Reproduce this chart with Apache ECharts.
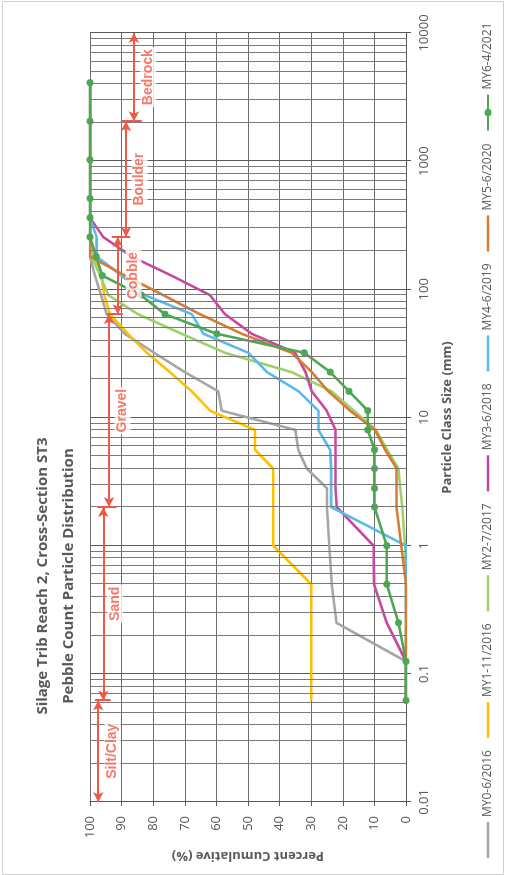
<!DOCTYPE html>
<html>
<head>
<meta charset="utf-8">
<script src="https://cdn.jsdelivr.net/npm/echarts@6/dist/echarts.min.js"></script>
<style>
  html, body { margin: 0; padding: 0; background: #fff; overflow: hidden; width: 506px; height: 875px; }
  /* the chart is laid out landscape and turned a quarter turn to stand upright on the page */
  #chart { position: absolute; left: 0; top: 0; width: 875px; height: 506px;
           transform-origin: 0 0; transform: translate(0, 875px) rotate(-90deg); }
</style>
</head>
<body>
<div id="chart"></div>
<script>
// Particle class sizes (mm)
const sizes = [0.062, 0.125, 0.25, 0.5, 1, 2, 2.8, 4, 5.6, 8, 11.3, 16, 22.6, 32, 45, 64, 90, 128, 180, 256, 362, 512, 1024, 2048, 4096];

const seriesNames = ['MY0-6/2016', 'MY1-11/2016', 'MY2-7/2017', 'MY3-6/2018', 'MY4-6/2019', 'MY5-6/2020', 'MY6-4/2021'];

// Percent cumulative finer than each class size
const my0 = [0, 0, 22, 23.5, 24.3, 25, 25, 31.4, 34.1, 35, 58.3, 59.4, 70, 79.7, 89, 94.7, 96.5, 98.4, 100, 100, 100, 100, 100, 100, 100];
const my1 = [30, 30, 30, 30, 42, 42, 42, 42, 47.8, 47.8, 62, 67.8, 74.7, 82, 88, 93.7, 95.5, 96.4, 99, 100, 100, 100, 100, 100, 100];
const my2 = [0, 0, 0, 0, 0.3, 1.2, 1.8, 2.4, 6, 9.5, 16.5, 23.5, 36.2, 57.3, 71, 84.8, 94.2, 96.8, 99.5, 100, 100, 100, 100, 100, 100];
const my3 = [0, 0, 6.1, 10.1, 10.3, 21.9, 22.3, 22.3, 22.3, 22.3, 25.1, 29.8, 31.8, 35.1, 48.8, 57.3, 62, 74.2, 86.8, 95.8, 100, 100, 100, 100, 100];
const my4 = [0, 0, 0, 0, 0, 23.7, 23.7, 23.7, 24, 27.7, 27.7, 34, 44, 49.9, 64.1, 67.8, 82.6, 90, 97.9, 97.9, 100, 100, 100, 100, 100];
const my5 = [0, 0, 0, 0, 1.5, 3, 3, 3, 6.6, 9.8, 17.7, 24.6, 29.8, 36.2, 52, 65.2, 76.8, 88.9, 100, 100, 100, 100, 100, 100, 100];
const my6 = [0, 0, 2.4, 6.1, 6.1, 10, 10, 10, 10, 12.1, 12.1, 18, 24, 32.2, 59.9, 76.3, 83.9, 96.1, 98, 100, 100, 100, 100, 100, 100];

const sizeTickLabels = ['0.01', '0.1', '1', '10', '100', '1000', '10000'];

// Sediment size classes and their boundaries (mm)
const classNames = ['Silt/Clay', 'Sand', 'Gravel', 'Cobble', 'Boulder', 'Bedrock'];
const classBounds = [0.01, 0.062, 2, 64, 256, 2048, 10000];

// ---- styling / layout ----
const colors = ['#A6A6A6', '#FFC000', '#9DD26A', '#C8479F', '#5BB9EB', '#D77B36', '#4CA852'];
const RED = '#EE5A47';
const arrowLevel = [97.4, 95.8, 94.0, 91.2, 88.6, 86.1];          // height of each class arrow
const barSpan = [[93.4, 98.4], [91.5, 97.6], [89.6, 94.6], [87.3, 93.1], [83.6, 90.3]]; // end bars at inner bounds
const labelLevel = [92.9, 92.1, 89.7, 86.2, 84.3, 81.6];
const FONT = "'Open Sans', 'DejaVu Sans', sans-serif";
// plain line swatch for the legend (corner specks keep the 36x9 box)
const LINE_ICON = 'path://M0,0L0.1,0L0.1,0.1Z M0,3.2L36,3.2L36,5.8L0,5.8Z M35.9,8.9L36,8.9L36,9Z';

const pairs = arr => sizes.map((s, i) => [s, arr[i]]);
const allData = [my0, my1, my2, my3, my4, my5, my6];

// log minor grid values 2..9 in each decade
const minorGrid = [];
for (let d = -2; d <= 3; d++) {
  for (let k = 2; k <= 9; k++) minorGrid.push(Number((k * Math.pow(10, d)).toPrecision(3)));
}

const dataSeries = allData.map((arr, i) => ({
  name: seriesNames[i],
  type: 'line',
  data: pairs(arr),
  symbol: i === 6 ? 'circle' : 'none',
  symbolSize: 7,
  showSymbol: i === 6,
  lineStyle: { color: colors[i], width: 2.6 },
  itemStyle: { color: colors[i] },
  z: 3,
  animation: false
}));

const gridSeries = {
  type: 'line',
  data: [],
  silent: true,
  z: 1,
  markLine: {
    silent: true,
    symbol: 'none',
    label: { show: false },
    lineStyle: { color: '#7a7a7a', width: 1, type: 'solid' },
    emphasis: { disabled: true },
    data: minorGrid.map(v => ({ xAxis: v })),
    animation: false
  }
};

const arrowLines = classNames.map((n, i) => [
  { coord: [classBounds[i], arrowLevel[i]] },
  { coord: [classBounds[i + 1], arrowLevel[i]] }
]);
const barLines = barSpan.map((s, i) => [
  { coord: [classBounds[i + 1], s[0]], symbol: 'none' },
  { coord: [classBounds[i + 1], s[1]], symbol: 'none' }
]);

const classSeries = {
  type: 'scatter',
  silent: true,
  z: 5,
  symbolSize: 0,
  data: classNames.map((n, i) => ({
    name: n,
    value: [Math.sqrt(classBounds[i] * classBounds[i + 1]), labelLevel[i]]
  })),
  label: {
    show: true,
    position: 'inside',
    formatter: '{b}',
    color: RED,
    fontWeight: 'bold',
    fontSize: 14,
    fontFamily: "'Liberation Sans', Arial, sans-serif",
    backgroundColor: '#ffffff',
    padding: [1, 2]
  },
  markLine: {
    silent: true,
    symbol: ['arrow', 'arrow'],
    symbolSize: [8, 10],
    label: { show: false },
    lineStyle: { color: RED, width: 2, type: 'solid' },
    itemStyle: { color: RED },
    emphasis: { disabled: true },
    data: arrowLines.concat(barLines),
    animation: false
  },
  animation: false
};

const chart = echarts.init(document.getElementById('chart'));
chart.setOption({
  animation: false,
  backgroundColor: '#ffffff',
  title: {
    text: 'Silage Trib Reach 2, Cross-Section ST3\nPebble Count Particle Distribution',
    left: 'center',
    top: 25,
    textStyle: { fontFamily: FONT, fontSize: 15, fontWeight: 'bold', color: '#595959', lineHeight: 26 },
    textAlign: 'center'
  },
  graphic: [{
    type: 'rect',
    shape: { x: 0.5, y: 2.5, width: 873, height: 501 },
    style: { fill: 'none', stroke: '#d0d0d0', lineWidth: 1 },
    silent: true, z: -1
  }],
  legend: {
    data: seriesNames.map((n, i) => i === 6 ? { name: n } : { name: n, icon: LINE_ICON }),
    left: 12,
    top: 477,
    itemWidth: 36,
    itemHeight: 9,
    itemGap: 12,
    textStyle: { fontFamily: FONT, fontSize: 12, color: '#595959' }
  },
  grid: { left: 73, right: 33, top: 90, bottom: 100 },
  xAxis: {
    type: 'log',
    logBase: 10,
    min: 0.01,
    max: 10000,
    splitNumber: 6,
    name: 'Particle Class Size (mm)',
    nameLocation: 'middle',
    nameGap: 35,
    nameTextStyle: { fontFamily: FONT, fontSize: 13, fontWeight: 'bold', color: '#595959' },
    axisLine: { show: true, lineStyle: { color: '#595959', width: 1 } },
    axisTick: { show: true, length: 5, lineStyle: { color: '#595959' } },
    axisLabel: {
      margin: 12,
      fontFamily: FONT, fontSize: 13, color: '#595959',
      formatter: v => sizeTickLabels[Math.round(Math.log10(v)) + 2]
    },
    splitLine: { show: true, lineStyle: { color: '#5a5a5a', width: 1 } },
    minorTick: { show: false },
    minorSplitLine: { show: false }
  },
  yAxis: {
    type: 'value',
    min: 0,
    max: 100,
    interval: 10,
    name: 'Percent Cumulative (%)',
    nameLocation: 'middle',
    nameGap: 44,
    nameTextStyle: { fontFamily: FONT, fontSize: 13, fontWeight: 'bold', color: '#595959' },
    axisLine: { show: true, lineStyle: { color: '#595959', width: 1 } },
    axisTick: { show: true, length: 4, lineStyle: { color: '#595959' } },
    axisLabel: { margin: 14, fontFamily: FONT, fontSize: 13, color: '#595959' },
    splitLine: { show: true, lineStyle: { color: '#6e6e6e', width: 1 } }
  },
  series: [gridSeries].concat(dataSeries, [classSeries])
});
</script>
</body>
</html>
